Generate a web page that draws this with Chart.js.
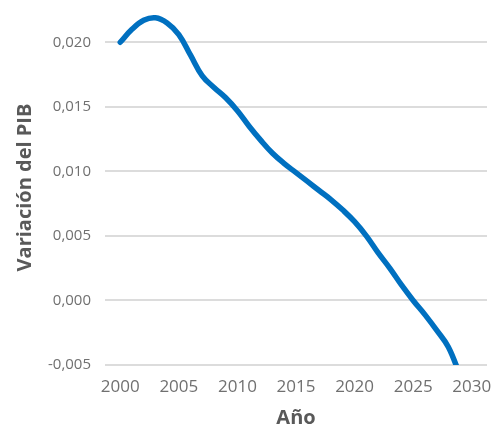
<!DOCTYPE html>
<html>
<head>
<meta charset="utf-8">
<script src="https://cdn.jsdelivr.net/npm/chart.js@4/dist/chart.umd.min.js"></script>
<style>
  body { margin: 0; background: #fff; }
  canvas { display: block; }
</style>
</head>
<body>
<canvas id="chart" width="497" height="434"></canvas>
<script>
// datos
const years = [2000, 2001, 2002, 2003, 2004, 2005, 2006, 2007, 2008, 2009,
               2010, 2011, 2012, 2013, 2014, 2015, 2016, 2017, 2018, 2019,
               2020, 2021, 2022, 2023, 2024, 2025, 2026, 2027, 2028, 2029];
const pibVariation = [0.0200, 0.0210, 0.0217, 0.0219, 0.0215, 0.0206, 0.0190, 0.0174, 0.0165, 0.0157,
                      0.0147, 0.0135, 0.0124, 0.0114, 0.0106, 0.0099, 0.0092, 0.0085, 0.0078, 0.0070,
                      0.0061, 0.0050, 0.0037, 0.0025, 0.0012, 0.0000, -0.0011, -0.0023, -0.0036, -0.0058];
const xTicks = [2000, 2005, 2010, 2015, 2020, 2025, 2030];
const yTicks = [-0.005, 0.000, 0.005, 0.010, 0.015, 0.020];

const fontFamily = '"Open Sans", "Noto Sans", sans-serif';

const ctx = document.getElementById('chart').getContext('2d');
new Chart(ctx, {
    type: 'line',
    data: {
        datasets: [{
            label: 'Variación del PIB',
            data: years.map((y, i) => ({ x: y, y: pibVariation[i] })),
            borderColor: '#0070c0',
            borderWidth: 5.5,
            borderCapStyle: 'round',
            borderJoinStyle: 'round',
            tension: 0.4,
            pointRadius: 0,
            fill: false,
            clip: 0
        }]
    },
    options: {
        responsive: false,
        animation: false,
        layout: { padding: { top: 10, right: 10, left: 0, bottom: 0 } },
        plugins: {
            legend: { display: false },
            tooltip: { enabled: false }
        },
        scales: {
            x: {
                type: 'linear',
                min: 1998.7,
                max: 2031.3,
                afterFit: s => { s.height = 69; s.paddingLeft = 0; s.paddingRight = 0; },
                afterBuildTicks: s => { s.ticks = xTicks.map(v => ({ value: v })); },
                grid: { display: false, drawTicks: false },
                border: { display: false },
                ticks: {
                    stepSize: 5,
                    includeBounds: false,
                    padding: 12,
                    color: '#707070',
                    font: { family: fontFamily, size: 17 },
                    callback: v => String(v)
                },
                title: {
                    display: true,
                    text: 'Año',
                    color: '#595959',
                    font: { family: fontFamily, size: 20, weight: 'bold' },
                    padding: { top: 0, bottom: 4 }
                }
            },
            y: {
                min: -0.005,
                max: 0.0225,
                afterFit: s => { s.width = 105; s.paddingTop = 0; s.paddingBottom = 0; },
                afterBuildTicks: s => { s.ticks = yTicks.map(v => ({ value: v })); },
                grid: { color: '#dcdcdc', lineWidth: 2, drawTicks: false },
                border: { display: false },
                ticks: {
                    stepSize: 0.005,
                    includeBounds: false,
                    padding: 14,
                    color: '#707070',
                    font: { family: fontFamily, size: 15 },
                    callback: v => v.toFixed(3).replace('.', ',')
                },
                title: {
                    display: true,
                    text: 'Variación del PIB',
                    color: '#595959',
                    font: { family: fontFamily, size: 20, weight: 'bold' },
                    padding: { top: 13, bottom: 0 }
                }
            }
        }
    }
});
</script>
</body>
</html>
